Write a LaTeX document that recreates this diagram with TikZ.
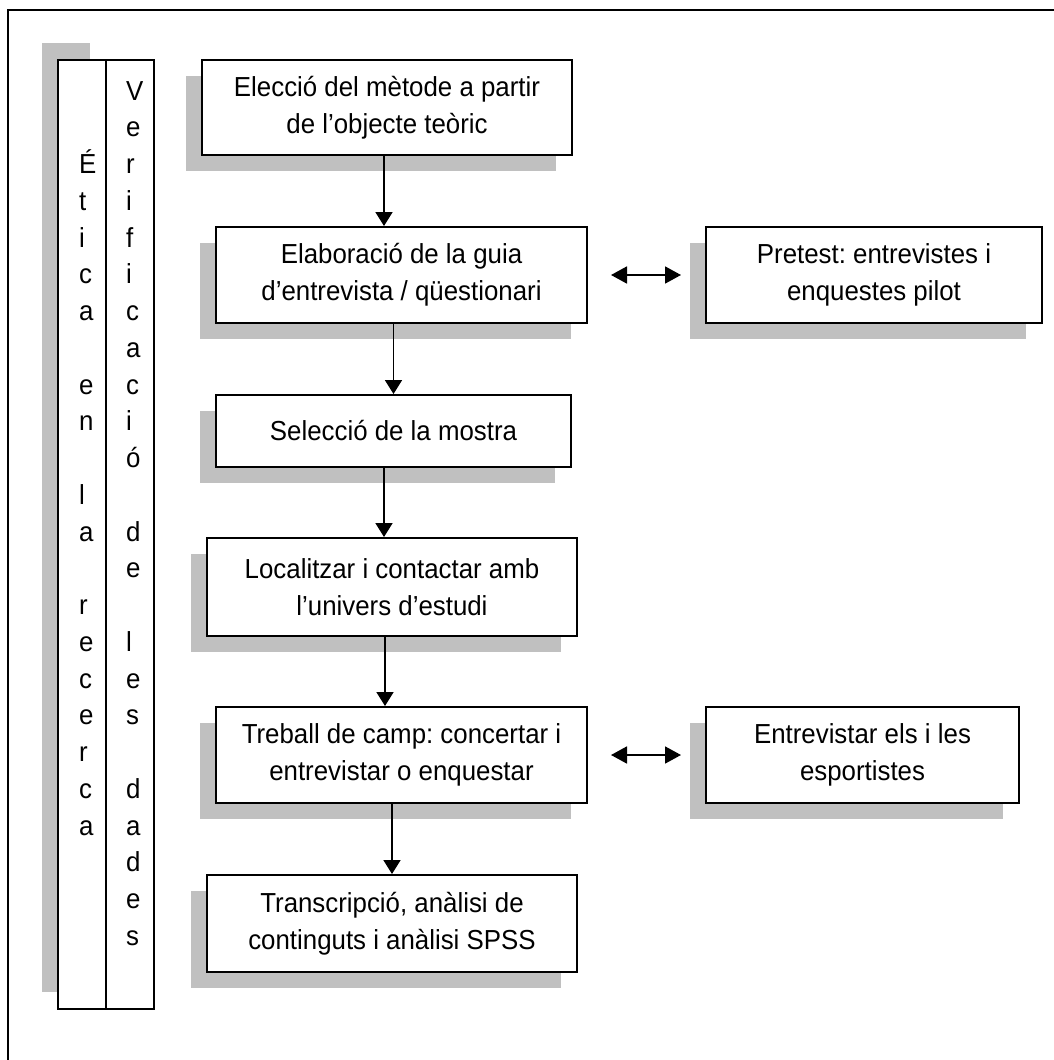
\documentclass[tikz,border=0pt]{standalone}
\usepackage{fontspec}
\setmainfont{Liberation Sans}[FakeStretch=0.94]
\usetikzlibrary{arrows.meta,shadows,calc}
\definecolor{shadowgray}{RGB}{192,192,192}
\frenchspacing
\begin{document}
\begin{tikzpicture}[x=1pt,y=-1pt,
  every node/.style={font=\fontsize{27.5}{37}\selectfont},
  boxline/.style={draw, line width=2pt, fill=white, inner sep=0pt},
  stepbox/.style={boxline, align=center,
    drop shadow={shadow xshift=-16pt, shadow yshift=-16pt, fill=shadowgray, opacity=1}},
  colbox/.style={boxline, minimum width=48pt, minimum height=949pt},
  letter/.style={anchor=base west, inner sep=0pt},
  arr/.style={line width=1.8pt, -{Triangle[length=14pt,width=17pt]}},
  darr/.style={line width=1.8pt, {Triangle[length=16pt,width=17pt]}-{Triangle[length=16pt,width=17pt]},
    shorten <=23pt, shorten >=24pt},
  frame/.style={line width=2pt}]
\useasboundingbox (0,0) rectangle (1054,1060);

% outer frame (only top and left edges lie inside the page)
\draw[frame] (8,1060) -- (8,10) -- (1054,10);

% side columns
\node[colbox, drop shadow={shadow xshift=-16pt, shadow yshift=17pt, fill=shadowgray, opacity=1}]
  (etica) at (82,534.5) {};
\node[colbox] (verif) at (130,534.5) {};

\foreach \ch/\k in {É/0,t/1,i/2,c/3,a/4,e/6,n/7,l/9,a/10,r/12,e/13,c/14,e/15,r/16,c/17,a/18}
  \node[letter] (et\k) at (79,{100+36.75*(\k+2)}) {\ch};
\foreach \ch/\k in {V/0,e/1,r/2,i/3,f/4,i/5,c/6,a/7,c/8,i/9,ó/10,d/12,e/13,l/15,e/16,s/17,d/19,a/20,d/21,e/22,s/23}
  \node[letter] (ve\k) at (126,{100+36.75*\k}) {\ch};

% process steps
\node[stepbox, minimum width=370pt, minimum height=95pt] (b1) at (387,107.5)
  {Elecció del mètode a partir\\de l’objecte teòric};
\node[stepbox, minimum width=371pt, minimum height=96pt] (b2) at (401.5,275)
  {Elaboració de la guia\\d’entrevista / qüestionari};
\node[stepbox, minimum width=336pt, minimum height=96pt] (p1) at (874,275)
  {Pretest: entrevistes i\\enquestes pilot};
\node[stepbox, minimum width=355pt, minimum height=72pt] (b3) at (393.5,431)
  {Selecció de la mostra};
\node[stepbox, minimum width=370pt, minimum height=98pt] (b4) at (392,587)
  {Localitzar i contactar amb\\l’univers d’estudi};
\node[stepbox, minimum width=371pt, minimum height=96pt] (b5) at (401.5,755)
  {Treball de camp: concertar i\\entrevistar o enquestar};
\node[stepbox, minimum width=313pt, minimum height=96pt] (p2) at (862.5,755)
  {Entrevistar els i les\\esportistes};
\node[stepbox, minimum width=370pt, minimum height=97pt] (b6) at (392,923.5)
  {Transcripció, anàlisi de\\continguts i anàlisi SPSS};

% connectors
\draw[arr] ($(b1.south)+(-3,0)$) -- ($(b1.south |- b2.north)+(-3,0)$);
\draw[arr] (b3.north |- b2.south) -- (b3.north);
\draw[arr] ($(b3.south)+(-9.5,0)$) -- ($(b3.south |- b4.north)+(-9.5,0)$);
\draw[arr] ($(b4.south)+(-7,0)$) -- ($(b4.south |- b5.north)+(-7,0)$);
\draw[arr] (b6.north |- b5.south) -- (b6.north);
\draw[darr] (b2.east) -- (p1.west);
\draw[darr] (b5.east) -- (p2.west);
\end{tikzpicture}
\end{document}
